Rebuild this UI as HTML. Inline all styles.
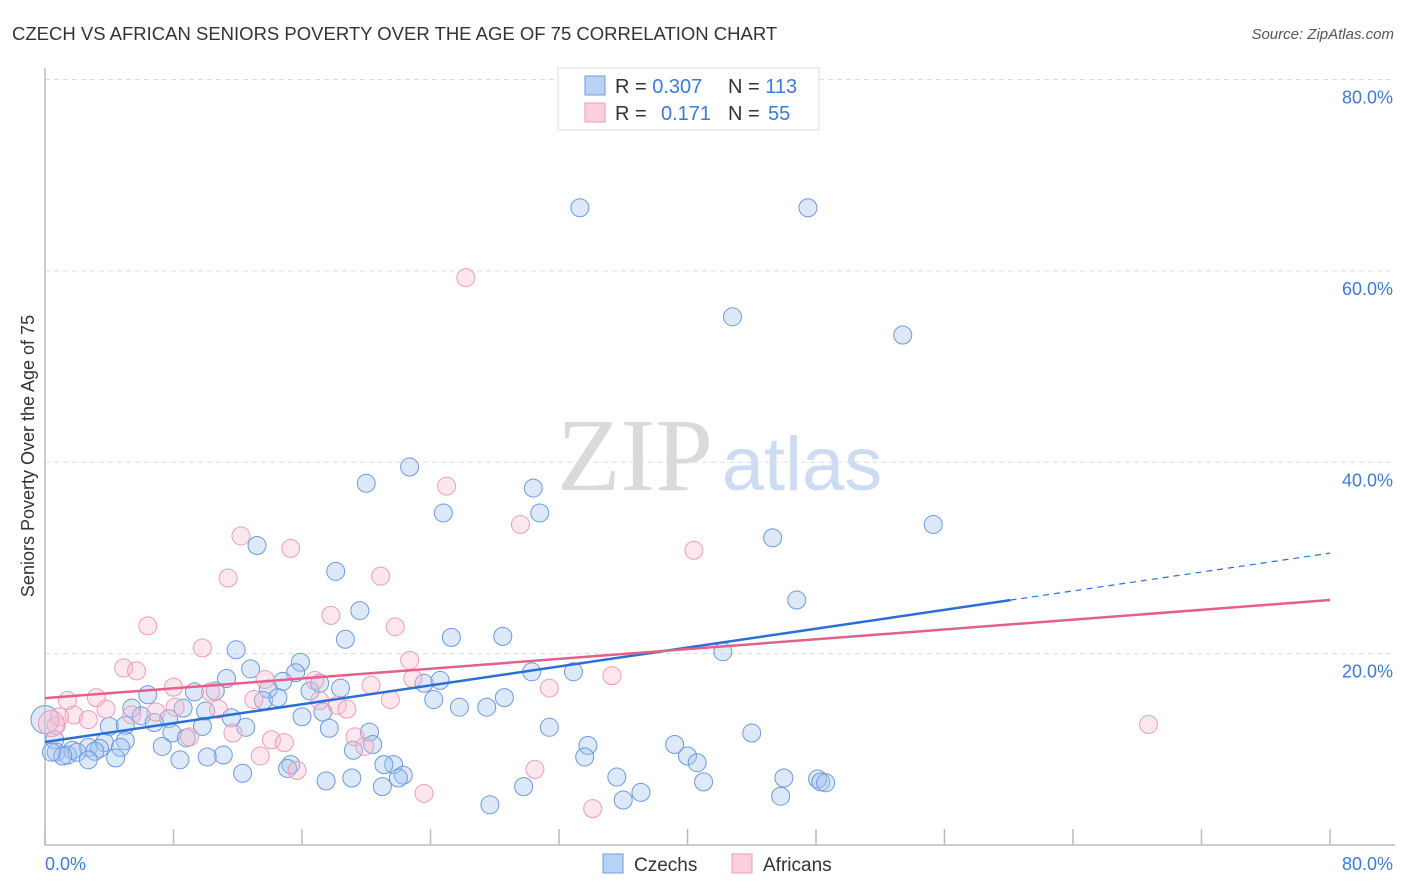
<!DOCTYPE html>
<html><head><meta charset="utf-8"><style>
body{margin:0;background:#fff;font-family:"Liberation Sans",sans-serif;}
svg{display:block}
</style></head><body>
<svg id="chart" width="1406" height="892" xmlns="http://www.w3.org/2000/svg">
<text x="12" y="40" font-size="18.5" fill="#333">CZECH VS AFRICAN SENIORS POVERTY OVER THE AGE OF 75 CORRELATION CHART</text>
<text x="1394" y="39" font-size="15" fill="#555" font-style="italic" text-anchor="end">Source: ZipAtlas.com</text>
<text x="635" y="490" font-size="104" fill="#dadada" font-family="Liberation Serif,serif" text-anchor="middle">ZIP</text>
<text x="802" y="490" font-size="76" fill="#cddcf2" text-anchor="middle">atlas</text>
<g id="grid"></g>
<g id="axes"></g>
<g id="pts"></g>
<g id="lines"></g>
<text transform="translate(34,456) rotate(-90)" font-size="18" fill="#333" text-anchor="middle">Seniors Poverty Over the Age of 75</text>
<g>
<rect x="558" y="68" width="261" height="62" fill="#fff" stroke="#ddd"/>
<rect x="585" y="76" width="20" height="19" fill="#b9d1f3" stroke="#6f9be0"/>
<rect x="585" y="103" width="20" height="19" fill="#fbd0dc" stroke="#ec9ab2"/>
<text x="615" y="93" font-size="20" fill="#333">R = <tspan fill="#3d7ad6">0.307</tspan></text>
<text x="728" y="93" font-size="20" fill="#333">N = <tspan fill="#3d7ad6">113</tspan></text>
<text x="615" y="120" font-size="20" fill="#333">R = <tspan fill="#3d7ad6" x="661">0.171</tspan></text>
<text x="728" y="120" font-size="20" fill="#333">N = <tspan fill="#3d7ad6" x="768">55</tspan></text>
</g>
<g>
<rect x="603" y="854" width="20" height="19" fill="#b9d1f3" stroke="#6f9be0"/>
<text x="634" y="871" font-size="19" fill="#333">Czechs</text>
<rect x="732" y="854" width="20" height="19" fill="#fbd0dc" stroke="#ec9ab2"/>
<text x="763" y="871" font-size="19" fill="#333">Africans</text>
</g>
</svg>
<script>
const yTicks=[20,40,60,80];
const yTickLabels=["20.0%","40.0%","60.0%","80.0%"];
const xTickLabels=["0.0%","80.0%"];
const czechX=[33.3,47.5,42.8,53.4,22.7,20.0,30.4,24.8,30.8,55.3,13.2,45.3,18.1,46.8,19.6,18.7,25.3,28.5,42.2,11.9,15.9,12.8,32.9,30.3,15.6,11.3,14.8,13.9,16.5,18.4,23.6,24.6,6.4,9.3,10.6,28.6,24.2,13.6,14.5,17.1,5.4,8.6,10.0,25.8,27.5,16.0,11.6,17.3,6.0,7.7,4.0,5.0,6.8,9.8,12.5,17.7,31.4,44.0,7.9,8.8,20.2,0.6,5.0,7.3,3.7,2.7,1.7,3.4,0.7,1.4,2.0,3.1,4.7,20.4,19.2,39.2,33.8,21.7,11.1,8.4,10.1,4.4,2.7,1.1,0.4,33.6,40.0,40.6,15.3,15.1,12.3,21.1,22.3,22.0,35.6,46.0,48.1,48.3,48.6,17.5,19.1,41.0,29.8,21.0,37.1,36.0,45.8,27.7,0.0];
const czechY=[66.6,66.6,55.2,53.3,39.5,37.8,37.3,34.7,34.7,33.5,31.3,32.1,28.6,25.6,24.5,21.5,21.7,21.8,20.2,20.4,19.1,18.4,18.1,18.1,18.0,17.4,17.1,16.3,16.1,16.4,16.9,17.2,15.7,16.0,16.1,15.4,15.2,15.1,15.4,16.9,14.3,14.3,14.0,14.4,14.4,13.4,13.3,13.9,13.5,13.2,12.4,12.5,12.8,12.4,12.3,12.2,12.3,11.7,11.7,11.2,11.8,11.0,10.9,10.3,10.7,10.2,9.9,10.1,9.7,9.4,9.7,9.8,10.2,10.5,9.9,10.5,10.4,8.4,9.4,8.9,9.2,9.1,8.9,9.3,9.7,9.2,9.3,8.6,8.4,8.0,7.5,8.4,7.3,7.0,7.1,7.0,6.9,6.6,6.5,6.7,7.0,6.6,6.1,6.1,5.5,4.7,5.1,4.2,13.1];
const africanX=[26.2,25.0,29.6,12.2,15.3,40.4,11.4,20.9,17.8,6.4,21.8,9.8,22.7,4.9,5.7,35.3,8.0,31.4,13.7,22.9,20.3,16.8,1.4,3.2,13.0,17.1,21.5,10.3,8.1,18.2,18.8,3.8,10.8,5.4,1.8,6.9,2.7,9.0,0.7,11.7,14.1,14.9,19.3,19.9,13.4,15.7,30.5,68.7,23.6,34.1,0.9,0.4];
const africanY=[59.3,37.5,33.5,32.3,31.0,30.8,27.9,28.1,24.0,22.9,22.8,20.6,19.3,18.5,18.2,17.7,16.5,16.4,17.3,17.4,16.7,17.2,15.1,15.4,15.2,15.1,15.2,16.0,14.4,14.6,14.2,14.2,14.2,13.6,13.6,13.9,13.1,11.3,12.5,11.7,11.0,10.7,11.3,10.3,9.3,7.8,7.9,12.6,5.4,3.8,13.4,12.7];
const czechTrend=[10.76,30.5];
const africanTrend=[15.35,25.6];
const czechSolidEnd=60.1;
const NS="http://www.w3.org/2000/svg";
const X0=45,X1=1330,Y0=845,YTOP=79.5;
const sx=v=>X0+(X1-X0)*v/80;
const sy=v=>Y0-(Y0-YTOP)*v/80;
function mk(t,a,p){const e=document.createElementNS(NS,t);for(const k in a)e.setAttribute(k,a[k]);p.appendChild(e);return e;}
const grid=document.getElementById('grid'),axes=document.getElementById('axes'),pts=document.getElementById('pts'),lines=document.getElementById('lines');
yTicks.forEach((v,i)=>{
 const l=mk('line',{x1:45,x2:1395,y1:sy(v),y2:sy(v),stroke:'#ddd','stroke-dasharray':'5,4'},grid);
 
 
 const t=mk('text',{x:1393,y:sy(v)+24,'font-size':18,fill:'#3d7ad6','text-anchor':'end'},axes);
 t.textContent=yTickLabels[i];
 
 
});
const ax=mk('path',{d:`M45,68 V${Y0} H1395`,stroke:'#bbb',fill:'none','stroke-width':1.5},axes);


for(let i=0;i<=10;i++){
 const tk=mk('line',{x1:sx(i*8),x2:sx(i*8),y1:Y0,y2:Y0-16,stroke:'#bbb','stroke-width':1.5},axes);
 
 
}
const xl0=mk('text',{x:45,y:870,'font-size':18,fill:'#3d7ad6'},axes);xl0.textContent=xTickLabels[0];


const xl1=mk('text',{x:1393,y:870,'font-size':18,fill:'#3d7ad6','text-anchor':'end'},axes);xl1.textContent=xTickLabels[1];


czechX.forEach((x,i)=>{
 const big=i===czechX.length-1;
 const c=mk('circle',{cx:sx(x),cy:sy(czechY[i]),r:big?14:9,fill:'rgba(165,198,240,0.38)',stroke:'#6b9ade','stroke-width':1},pts);
 
 
});
africanX.forEach((x,i)=>{
 const big=i===africanX.length-1;
 const c=mk('circle',{cx:sx(x),cy:sy(africanY[i]),r:big?13:9,fill:'rgba(248,185,205,0.35)',stroke:'#ee9db4','stroke-width':1},pts);
 
 
});
const cy=v=>czechTrend[0]+(czechTrend[1]-czechTrend[0])*v/80;
const l1=mk('line',{x1:sx(0),y1:sy(cy(0)),x2:sx(czechSolidEnd),y2:sy(cy(czechSolidEnd)),stroke:'#2a6fd6','stroke-width':2.5},lines);


const l2=mk('line',{x1:sx(czechSolidEnd),y1:sy(cy(czechSolidEnd)),x2:sx(80),y2:sy(cy(80)),stroke:'#2a6fd6','stroke-width':1.2,'stroke-dasharray':'6,5'},lines);


const l3=mk('line',{x1:sx(0),y1:sy(africanTrend[0]),x2:sx(80),y2:sy(africanTrend[1]),stroke:'#e4608a','stroke-width':2.5},lines);


</script>
</body></html>
